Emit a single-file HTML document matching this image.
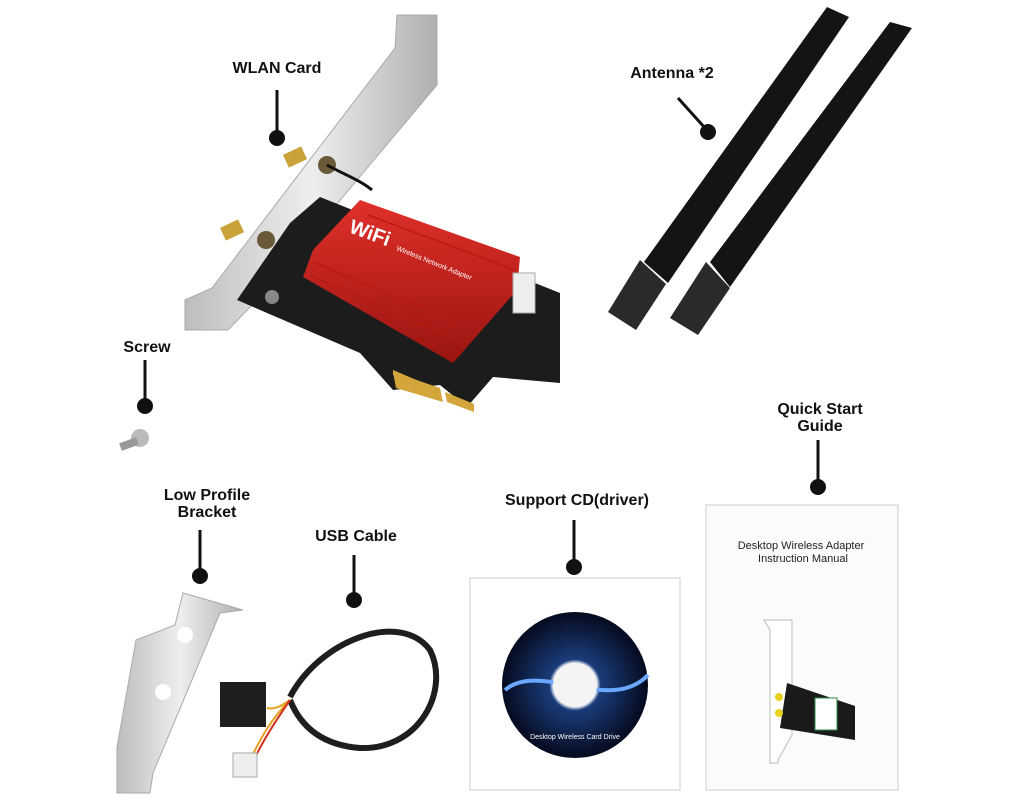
<!DOCTYPE html>
<html><head><meta charset="utf-8"><style>
html,body{margin:0;padding:0;background:#fff;}
svg{display:block}
.l{font-family:"Liberation Sans",sans-serif;font-weight:bold;font-size:16px;fill:#111;text-anchor:middle}
</style></head><body>
<svg width="1024" height="800" viewBox="0 0 1024 800" xmlns="http://www.w3.org/2000/svg">
<defs>
<linearGradient id="sil" x1="0" x2="1" y1="0" y2="0"><stop offset="0" stop-color="#bdbdbd"/><stop offset="0.5" stop-color="#eeeeee"/><stop offset="1" stop-color="#b0b0b0"/></linearGradient>
<linearGradient id="red" x1="0" x2="0" y1="0" y2="1"><stop offset="0" stop-color="#e0302a"/><stop offset="1" stop-color="#9a1410"/></linearGradient>
<radialGradient id="cd" cx="0.5" cy="0.5" r="0.5"><stop offset="0.3" stop-color="#e8eef6"/><stop offset="0.35" stop-color="#1a3c7a"/><stop offset="1" stop-color="#050a1e"/></radialGradient>
</defs>
<!-- WLAN card bracket -->
<polygon points="397,15 437,15 437,85 252,305 228,330 185,330 185,300 212,288 395,48" fill="url(#sil)" stroke="#aaa"/>
<!-- PCB -->
<polygon points="290,223 320,197 560,293 560,383 493,377 467,407 440,385 393,390 360,353 237,300" fill="#1c1c1c"/>
<polygon points="393,370 440,390 440,393 393,375" fill="#d4a53a"/>
<polygon points="393,372 440,388 443,402 396,388" fill="#d4a53a"/>
<polygon points="445,392 474,404 474,412 447,402" fill="#d4a53a"/>
<!-- heatsink -->
<polygon points="360,200 520,257 517,290 453,363 303,277 313,250" fill="url(#red)"/>
<g stroke="#b81a14" stroke-width="1.5">
<line x1="313" y1="262" x2="455" y2="322"/><line x1="310" y1="275" x2="453" y2="338"/><line x1="368" y1="215" x2="515" y2="270"/>
</g>
<text x="348" y="232" font-family="Liberation Sans,sans-serif" font-size="20" font-weight="bold" fill="#fff" transform="rotate(20 348 232)">WiFi</text>
<text x="396" y="250" font-family="Liberation Sans,sans-serif" font-size="7" fill="#fff" transform="rotate(22 396 250)">Wireless Network Adapter</text>
<rect x="513" y="273" width="22" height="40" fill="#eee" stroke="#aaa"/>
<rect x="285" y="150" width="20" height="14" fill="#c9a23a" transform="rotate(-25 295 157)"/>
<rect x="222" y="223" width="20" height="14" fill="#c9a23a" transform="rotate(-25 232 230)"/>
<circle cx="327" cy="165" r="9" fill="#6b5a3a"/><circle cx="266" cy="240" r="9" fill="#6b5a3a"/>
<path d="M327,165 C345,175 360,180 372,190" stroke="#111" stroke-width="3" fill="none"/>
<circle cx="272" cy="297" r="7" fill="#888"/>
<!-- antennas -->
<polygon points="827,7 849,17 668,283 644,262" fill="#141414"/>
<polygon points="890,22 912,28 730,287 710,262" fill="#141414"/>
<polygon points="640,260 666,284 636,330 608,312" fill="#2a2a2a"/>
<polygon points="706,262 730,288 698,335 670,318" fill="#2a2a2a"/>
<!-- screw -->
<circle cx="140" cy="438" r="9" fill="#bbb"/><rect x="120" y="440" width="18" height="8" fill="#999" transform="rotate(-20 129 444)"/>
<!-- low profile bracket -->
<polygon points="183,593 243,610 220,613 153,773 150,793 117,793 117,747 136,640 175,625" fill="url(#sil)" stroke="#aaa"/>
<circle cx="185" cy="635" r="8" fill="#fff"/><circle cx="163" cy="692" r="8" fill="#fff"/>
<!-- cable -->
<path d="M290,697 C320,640 400,610 430,650 C450,690 420,750 360,748 C320,745 300,725 290,700" fill="none" stroke="#1e1e1e" stroke-width="6"/>
<path d="M267,708 C275,710 283,705 290,700" stroke="#e8a020" stroke-width="2" fill="none"/>
<path d="M290,700 C270,720 260,740 250,760" stroke="#e8a020" stroke-width="2" fill="none"/>
<path d="M290,700 C275,722 262,742 253,762" stroke="#d03020" stroke-width="2" fill="none"/>
<rect x="220" y="682" width="46" height="45" fill="#1e1e1e"/>
<rect x="233" y="753" width="24" height="24" fill="#eee" stroke="#aaa"/>
<!-- CD sleeve -->
<rect x="470" y="578" width="210" height="212" fill="#fff" stroke="#ccc"/>
<circle cx="575" cy="685" r="73" fill="url(#cd)"/>
<path d="M505,690 C540,660 610,715 648,675" stroke="#6aa8ff" stroke-width="4" fill="none"/>
<circle cx="575" cy="685" r="22" fill="#f4f4f4"/>
<text x="575" y="739" font-family="Liberation Sans,sans-serif" font-size="7" fill="#fff" text-anchor="middle">Desktop Wireless Card Drive</text>
<!-- manual -->
<rect x="706" y="505" width="192" height="285" fill="#fbfbfb" stroke="#ccc"/>
<text x="801" y="549" font-family="Liberation Sans,sans-serif" font-size="11" fill="#222" text-anchor="middle">Desktop Wireless Adapter</text>
<text x="803" y="562" font-family="Liberation Sans,sans-serif" font-size="11" fill="#222" text-anchor="middle">Instruction Manual</text>
<polygon points="764,620 792,620 792,735 778,760 778,763 770,763 770,630" fill="#fff" stroke="#bbb"/>
<polygon points="787,683 855,706 855,740 780,728" fill="#1a1a1a"/>
<rect x="815" y="698" width="22" height="32" fill="#fff" stroke="#2f8c4a"/>
<circle cx="779" cy="697" r="4" fill="#e8d020"/><circle cx="779" cy="713" r="4" fill="#e8d020"/>
<!-- labels & pointers -->
<g fill="#111" stroke="#111" stroke-width="3">
<line x1="277" y1="90" x2="277" y2="135"/><circle cx="277" cy="138" r="8" stroke="none"/>
<line x1="678" y1="98" x2="705" y2="128"/><circle cx="708" cy="132" r="8" stroke="none"/>
<line x1="145" y1="360" x2="145" y2="402"/><circle cx="145" cy="406" r="8" stroke="none"/>
<line x1="200" y1="530" x2="200" y2="572"/><circle cx="200" cy="576" r="8" stroke="none"/>
<line x1="354" y1="555" x2="354" y2="596"/><circle cx="354" cy="600" r="8" stroke="none"/>
<line x1="574" y1="520" x2="574" y2="563"/><circle cx="574" cy="567" r="8" stroke="none"/>
<line x1="818" y1="440" x2="818" y2="483"/><circle cx="818" cy="487" r="8" stroke="none"/>
</g>
<text class="l" x="277" y="73">WLAN Card</text>
<text class="l" x="672" y="78">Antenna *2</text>
<text class="l" x="147" y="352">Screw</text>
<text class="l" x="207" y="500">Low Profile</text>
<text class="l" x="207" y="517">Bracket</text>
<text class="l" x="356" y="541">USB Cable</text>
<text class="l" x="577" y="505">Support CD(driver)</text>
<text class="l" x="820" y="414">Quick Start</text>
<text class="l" x="820" y="431">Guide</text>
</svg>
</body></html>
